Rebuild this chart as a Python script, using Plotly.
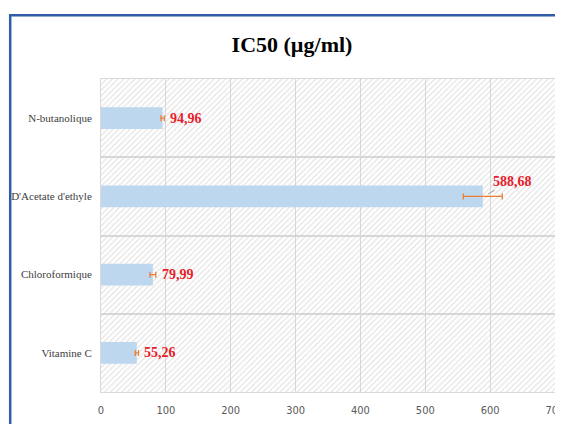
import plotly.graph_objects as go

categories = ["Vitamine C", "Chloroformique", "D'Acetate d'ethyle", "N-butanolique"]
values = [55.26, 79.99, 588.68, 94.96]
errors = [2.5, 4.5, 30.0, 2.5]
labels = ["55,26", "79,99", "588,68", "94,96"]
x_ticks = [0, 100, 200, 300, 400, 500, 600, 700]
x_max = 700

pos = list(range(len(categories)))

fig = go.Figure()

# hatched plot background
fig.add_trace(go.Bar(
    y=pos, x=[x_max] * len(pos), orientation="h", width=1,
    marker=dict(color="rgba(0,0,0,0)", line=dict(width=0),
                pattern=dict(shape="/", fgcolor="#c8c8c8", size=4, solidity=0.3,
                             fillmode="overlay")),
    hoverinfo="skip", showlegend=False,
))

fig.add_trace(go.Bar(
    y=pos, x=values, orientation="h", width=0.28,
    marker=dict(color="#BDD7EE", line=dict(width=0)),
    error_x=dict(type="data", array=errors, visible=True, color="#ED7D31",
                 thickness=1.3, width=3),
    showlegend=False,
))

for p, v, e, lab in zip(pos, values, errors, labels):
    if e > 10:
        fig.add_annotation(x=v, y=p, xref="x", yref="y", text="<b>%s</b>" % lab,
                           showarrow=True, arrowhead=0, arrowwidth=1, arrowcolor="#a6a6a6",
                           ax=30, ay=-15, standoff=6,
                           font=dict(family="Liberation Serif", size=14, color="#E8202A"))
    else:
        fig.add_annotation(x=v + e, y=p, xref="x", yref="y", text="<b>%s</b>" % lab,
                           showarrow=False, xanchor="left", xshift=4,
                           font=dict(family="Liberation Serif", size=14, color="#E8202A"))

# outer blue frame
fig.add_shape(type="rect", xref="paper", yref="paper", x0=-0.2, x1=1.6, y0=-0.6, y1=1.204,
              line=dict(color="#2F5DA8", width=2.5), fillcolor="rgba(0,0,0,0)", layer="above")

fig.update_layout(
    width=563, height=424,
    margin=dict(l=93, r=16, t=71, b=40, autoexpand=False),
    paper_bgcolor="white", plot_bgcolor="white",
    barmode="overlay",
    title=dict(text="<b>IC50 (µg/ml)</b>", x=284 / 563, xanchor="center", xref="container",
               y=1 - 36 / 424, yanchor="middle", yref="container",
               font=dict(family="Liberation Serif", size=22, color="#000000")),
    xaxis=dict(range=[0, x_max], tickvals=x_ticks, showgrid=True, gridcolor="#d9d9d9",
               gridwidth=1, zeroline=False, showline=True, linecolor="#d9d9d9", mirror=True,
               tickfont=dict(family="DejaVu Sans Condensed", size=11, color="#595959"),
               ticks="", ticklabelstandoff=8, fixedrange=True, automargin=False),
    yaxis=dict(range=[-0.5, len(pos) - 0.5], tickvals=pos, ticktext=categories,
               showgrid=False, zeroline=False, showline=True, linecolor="#d9d9d9", mirror=True,
               minor=dict(tickvals=[p + 0.5 for p in pos[:-1]], showgrid=True,
                          gridcolor="#d9d9d9", gridwidth=1.5, ticks=""),
               tickfont=dict(family="Liberation Serif", size=11, color="#404040"),
               ticks="", ticklabelstandoff=6, fixedrange=True, automargin=False),
)

fig.write_html("out.html")
